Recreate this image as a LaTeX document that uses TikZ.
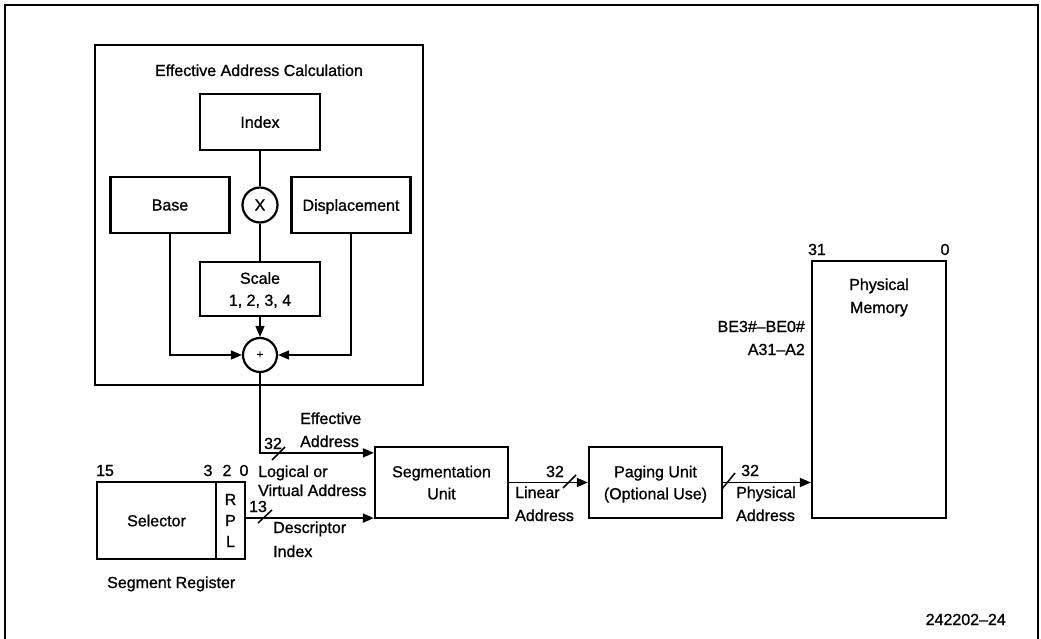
\documentclass[tikz,border=0pt]{standalone}
\usepackage{fontspec}
\setmainfont[FakeBold=1]{Liberation Sans}
\usetikzlibrary{arrows.meta}
\begin{document}
\begin{tikzpicture}[x=1pt,y=-1pt,
  font=\fontsize{16}{22}\selectfont,
  box/.style={draw, line width=2.2pt, inner sep=0pt, align=center, text depth=0pt},
  op/.style={draw, circle, line width=2.2pt, minimum size=35pt, inner sep=0pt},
  wire/.style={line width=1.5pt},
  arr/.style={wire, -{Triangle[length=11pt,width=9pt]}},
  lbl/.style={inner sep=0pt, anchor=base},
  lblw/.style={inner sep=0pt, anchor=base west},
  lble/.style={inner sep=0pt, anchor=base east},
  slash/.style={line width=1.5pt}
]
\useasboundingbox (0,0) rectangle (1041,639);
\draw[line width=1.6pt] (5,639) -- (5,5) -- (1038,5) -- (1038,639);

% Effective address calculation
\node[box, minimum width=328pt, minimum height=340pt] (eac) at (259,215) {};
\node[lbl] (eactitle) at (259,76) {Effective Address Calculation};
\node[box, minimum width=120pt, minimum height=56pt] (index) at (260,122) {Index};
\node[box, minimum width=119pt, minimum height=56pt] (base) at (170,205) {Base};
\node[box, minimum width=119pt, minimum height=56pt] (disp) at (351,205) {Displacement};
\node[op] (mul) at (260,205) {X};
\node[box, minimum width=120pt, minimum height=54pt] (scale) at (260,289) {Scale\\1, 2, 3, 4};
\node[op, minimum size=34pt, font=\fontsize{12}{12}\selectfont] (add) at (260,355) {+};

\draw[wire] (index) -- (mul);
\draw[wire] (mul) -- (scale);
\draw[arr] (scale) -- (add);
\draw[arr] (base.south) |- (add.west);
\draw[arr] (disp.south) |- (add.east);

% Segment register
\node[box, minimum width=119pt, minimum height=77pt] (sel) at (156.5,520.5) {Selector};
\node[box, minimum width=29pt, minimum height=77pt, font=\fontsize{16}{21}\selectfont] (rpl) at (230.5,520.5) {R\\P\\L};
\node[lbl] (b15) at (105,476) {15};
\node[lbl] (b3) at (208,476) {3};
\node[lbl] (b2) at (227,476) {2};
\node[lbl] (b0) at (244,476) {0};
\node[lblw] (segreg) at (107,588) {Segment Register};

% Segmentation, paging, memory
\node[box, minimum width=133pt, minimum height=71pt] (seg) at (441.5,482.5) {Segmentation\\Unit};
\node[box, minimum width=133pt, minimum height=71pt] (paging) at (655.5,482.5) {Paging Unit\\(Optional Use)};
\node[box, minimum width=134pt, minimum height=257pt] (mem) at (879,389.5) {};
\node[lbl] (memt1) at (879,290) {Physical};
\node[lbl] (memt2) at (879,313) {Memory};
\node[lbl] (m31) at (817,255) {31};
\node[lbl] (m0) at (945,255) {0};
\node[lble] (be) at (805,332) {BE3\#–BE0\#};
\node[lble] (addr) at (805,355) {A31–A2};

% connectors
\draw[arr] (add.south) |- ([yshift=-7pt]seg.north west);
\draw[arr] ([yshift=1pt]seg.south west -| rpl.east) -- ([yshift=1pt]seg.south west);
\draw[arr] (seg) -- (paging);
\draw[arr] (paging.east) -- (paging.east -| mem.west);

% bus-width slashes
\draw[slash] (272,460) -- (285,447);
\draw[slash] (258,523) -- (272,510);
\draw[slash] (563,488) -- (576,475);
\draw[slash] (722,489) -- (735,473);

% labels
\node[lbl] (n32a) at (273,449) {32};
\node[lblw] (ea1) at (300,424) {Effective};
\node[lblw] (ea2) at (300,447) {Address};
\node[lblw] (lv1) at (258,477) {Logical or};
\node[lblw] (lv2) at (258,496) {Virtual Address};
\node[lbl] (n13) at (258,512) {13};
\node[lblw] (di1) at (273,533) {Descriptor};
\node[lblw] (di2) at (273,557) {Index};
\node[lbl] (n32b) at (555,477) {32};
\node[lblw] (la1) at (515,498) {Linear};
\node[lblw] (la2) at (515,521) {Address};
\node[lblw] (n32c) at (741,476) {32};
\node[lblw] (pa1) at (736,498) {Physical};
\node[lblw] (pa2) at (736,521) {Address};
\node[lble] (fig) at (1006,625) {242202–24};
\end{tikzpicture}
\end{document}
